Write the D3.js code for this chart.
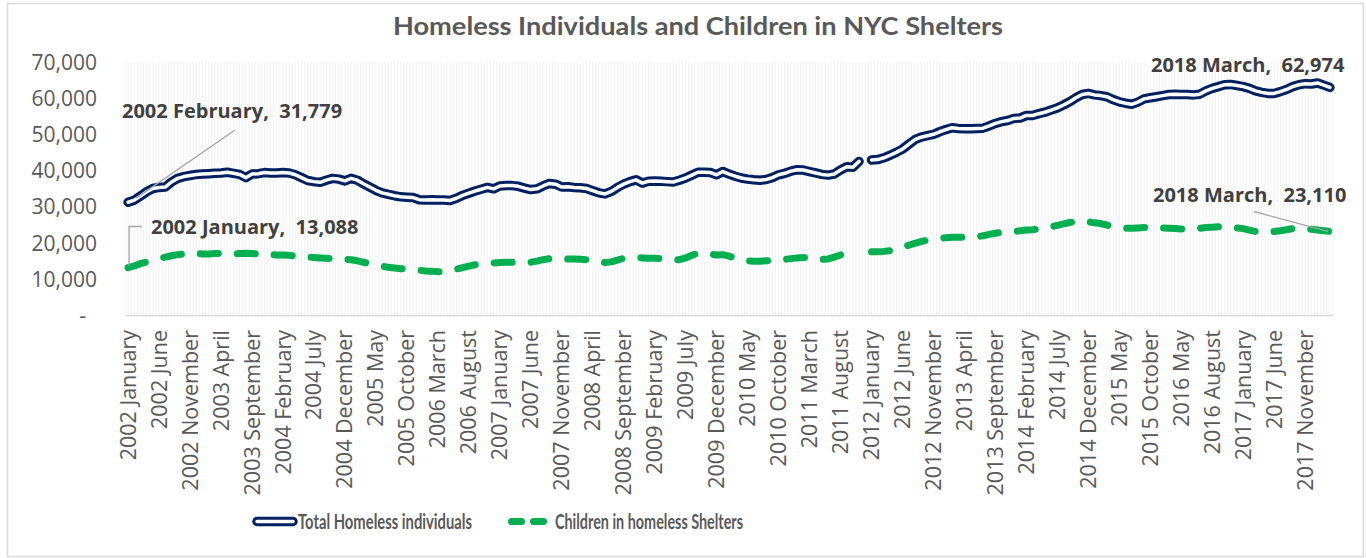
<!DOCTYPE html>
<html>
<head>
<meta charset="utf-8">
<script src="https://cdn.jsdelivr.net/npm/d3@7"></script>
<style>
  html, body { margin: 0; padding: 0; background: #ffffff; }
  svg { display: block; }
</style>
</head>
<body>
<svg id="chart" width="1366" height="558"></svg>
<script>
// ---------------- DATA ----------------
const chartTitle = "Homeless Individuals and Children in NYC Shelters";
const seriesNames = ["Total Homeless individuals", "Children in homeless Shelters"];

// tick labels shown every 5th month on the category axis
const tickLabels = [
  "2002 January","2002 June","2002 November","2003 April","2003 September",
  "2004 February","2004 July","2004 December","2005 May","2005 October",
  "2006 March","2006 August","2007 January","2007 June","2007 November",
  "2008 April","2008 September","2009 February","2009 July","2009 December",
  "2010 May","2010 October","2011 March","2011 August","2012 January",
  "2012 June","2012 November","2013 April","2013 September","2014 February",
  "2014 July","2014 December","2015 May","2015 October","2016 May",
  "2016 August","2017 January","2017 June","2017 November"
];
const tickStep = 5;

// Total homeless individuals, monthly (null = missing month)
const totalHomeless = [
  31200,31779,32900,34100,35000,35300,35400,36800,37800,38300,
  38600,38900,39000,39100,39200,39300,39500,39200,38900,38000,
  39000,39100,39400,39300,39300,39400,39300,38800,38000,37200,
  36900,36700,37300,37800,37600,37100,37800,37300,36300,35400,
  34500,33800,33400,33000,32700,32600,32500,31900,31800,31900,
  31800,31800,31700,32300,33100,33700,34300,34800,35300,34900,
  35700,35800,35800,35600,35100,34700,34900,35700,36400,36200,
  35400,35500,35300,35200,35000,34400,33800,33500,34200,35300,
  36200,36900,37400,36500,37000,37100,37000,36900,36800,37300,
  37900,38700,39500,39500,39400,38800,39700,39000,38400,37900,
  37600,37400,37300,37500,38000,38800,39200,39800,40200,40100,
  39700,39300,38900,38700,39000,40100,41000,40900,42500,null,
  42900,43000,43500,44200,45000,45900,47200,48500,49200,49600,
  50000,50700,51300,51800,51600,51500,51500,51600,51700,52300,
  53000,53500,53800,54400,54500,55200,55200,55700,56100,56700,
  57300,58100,59000,60100,61000,61300,60900,60700,60400,59600,
  59000,58600,58300,58900,59800,60100,60400,60700,61000,61100,
  61000,61000,60900,61100,62000,62700,63200,63700,63800,63500,
  63200,62700,62000,61600,61300,61300,61800,62400,63200,63700,
  64000,63900,64200,63600,62974
];

// Children in homeless shelters, monthly (null = missing month)
const childrenInShelters = [
  13088,13600,14200,14700,15100,15600,16000,16400,16700,16900,
  17000,17000,16900,16900,17000,17000,16900,16900,17000,17100,
  17000,16900,16800,16700,16600,16600,16500,16300,16200,16000,
  15900,15800,15700,15600,15500,15400,15300,15000,14600,14200,
  13800,13500,13200,13000,12800,12700,12500,12400,12200,12100,
  12000,12000,12300,12700,13100,13500,13900,14100,14300,14400,
  14500,14600,14600,14500,14500,14600,14900,15300,15600,15700,
  15600,15500,15500,15400,15300,15000,14700,14500,14700,15200,
  15700,15900,15900,15800,15700,15700,15600,15400,15200,15300,
  15800,16500,17100,17200,16900,16600,16700,16300,15700,15300,
  15000,14900,14900,15000,15100,15300,15400,15600,15800,15900,
  15900,15700,15400,15500,16000,16600,17100,17300,17500,null,
  17500,17500,17600,17800,18100,18700,19300,19800,20300,20700,
  21000,21200,21400,21500,21500,21500,21600,21700,21900,22300,
  22600,22900,23000,23100,23300,23500,23600,23800,24100,24400,
  24800,25200,25600,25900,26000,25800,25500,25300,24900,24400,
  24200,24000,24000,24100,24200,24200,24200,24100,24000,23900,
  23800,23700,23800,24000,24200,24300,24400,24400,24300,24100,
  23900,23500,23100,22900,23000,23100,23300,23600,23900,24000,
  23900,23700,23500,23300,23110
];

const yTicks = [0,10000,20000,30000,40000,50000,60000,70000];

// data labels: [series index, point index, text]
const dataLabels = [
  { series: 0, index: 1,   text: "2002 February,  31,779" },
  { series: 1, index: 0,   text: "2002 January,  13,088" },
  { series: 0, index: 194, text: "2018 March,  62,974" },
  { series: 1, index: 194, text: "2018 March,  23,110" }
];

// ---------------- CHART ----------------
const svg = d3.select("#chart");
const plot = { left: 125, right: 1333, top: 62, bottom: 315 };
const n = totalHomeless.length;
const idx = d3.range(n);

const NAVY = "#002060", GREEN = "#00B050", TXT = "#595959", LBL = "#404040";

// outer chart border
svg.append("rect")
  .attr("x", 7.5).attr("y", 3.5).attr("width", 1356).attr("height", 553)
  .attr("fill", "#ffffff").attr("stroke", "#d9d9d9").attr("stroke-width", 1.5);

const x = d3.scaleBand().domain(idx).range([plot.left, plot.right]).paddingInner(0).paddingOuter(0);
const xc = i => x(i) + x.bandwidth() / 2;
const y = d3.scaleLinear().domain([0, 70000]).range([plot.bottom, plot.top]);

// dense vertical light gridlines
const gridG = svg.append("g");
const sub = 2;
const gridPos = d3.range(n * sub + 1).map(k => plot.left + k * x.bandwidth() / sub);
gridG.selectAll("line").data(gridPos).join("line")
  .attr("x1", d => d).attr("x2", d => d)
  .attr("y1", plot.top).attr("y2", plot.bottom)
  .attr("stroke", "#f2f2f2").attr("stroke-width", 1);

// title
svg.append("text")
  .attr("x", 698).attr("y", 35)
  .attr("text-anchor", "middle")
  .attr("font-family", "Lato, 'Open Sans', sans-serif")
  .attr("font-weight", 700).attr("font-size", 25)
  .attr("fill", TXT)
  .attr("textLength", 610).attr("lengthAdjust", "spacingAndGlyphs")
  .text(chartTitle);

// y axis
const yAxis = d3.axisLeft(y).tickValues(yTicks).tickSize(0).tickPadding(0)
  .tickFormat(d => d === 0 ? "-" : d3.format(",")(d));
const yG = svg.append("g").attr("transform", `translate(97,0)`).call(yAxis);
yG.select(".domain").remove();
yG.selectAll("text")
  .attr("font-family", "'Open Sans', sans-serif").attr("font-size", 21)
  .attr("fill", TXT).attr("dy", "0.35em")
  .attr("dx", d => d === 0 ? -11 : 0);

// x axis
const xAxis = d3.axisBottom(x)
  .tickValues(idx.filter(i => i % tickStep === 0 && i / tickStep < tickLabels.length))
  .tickSize(0).tickPadding(0)
  .tickFormat(i => tickLabels[i / tickStep]);
const xG = svg.append("g").attr("transform", `translate(0,${plot.bottom})`).call(xAxis);
xG.select(".domain").attr("stroke", "#d9d9d9").attr("stroke-width", 1.5);
xG.selectAll("text")
  .attr("font-family", "'Open Sans', sans-serif").attr("font-size", 21.5)
  .attr("fill", TXT)
  .attr("text-anchor", "end")
  .attr("transform", "rotate(-90)")
  .attr("x", -15).attr("y", 0).attr("dy", "0.35em");

// lines
const lineGen = d3.line().defined(d => d.v !== null).x(d => xc(d.i)).y(d => y(d.v));
const totalPts = totalHomeless.map((v, i) => ({ i, v }));
const childPts = childrenInShelters.map((v, i) => ({ i, v }));

const lines = svg.append("g").attr("fill", "none").attr("stroke-linejoin", "round").attr("stroke-linecap", "round");
lines.append("path").datum(totalPts).attr("d", lineGen)
  .attr("stroke", NAVY).attr("stroke-width", 9.5);
lines.append("path").datum(totalPts).attr("d", lineGen)
  .attr("stroke", "#ffffff").attr("stroke-width", 3.5);
lines.append("path").datum(childPts).attr("d", lineGen)
  .attr("stroke", GREEN).attr("stroke-width", 7).attr("stroke-dasharray", "18 19");

// data labels with leader lines
const labelFont = "'Open Sans', sans-serif";
const lblG = svg.append("g");
const seriesArr = [totalHomeless, childrenInShelters];
const labelPlacement = [
  { tx: 122, ty: 118, leader: p => [[p[0] + 2, p[1] - 2], [235, 130]] },
  { tx: 151, ty: 234, leader: p => [[p[0] + 1, p[1] - 2], [p[0] + 1, 226.5], [142, 226.5]] },
  { tx: 1151, ty: 72, leader: null },
  { tx: 1153, ty: 202, leader: p => [[p[0] - 2, p[1]], [1254, 211.5]] }
];
dataLabels.forEach((d, k) => {
  const pl = labelPlacement[k];
  const p = [xc(d.index), y(seriesArr[d.series][d.index])];
  if (pl.leader) {
    lblG.append("path").attr("d", d3.line()(pl.leader(p)))
      .attr("fill", "none").attr("stroke", "#a6a6a6").attr("stroke-width", 1.3);
  }
  lblG.append("text").attr("x", pl.tx).attr("y", pl.ty)
    .attr("font-family", labelFont).attr("font-weight", 700).attr("font-size", 20)
    .attr("fill", LBL).style("white-space", "pre").text(d.text);
});

// legend
const leg = svg.append("g").attr("stroke-linecap", "round");
const ly = 521.5;
const legScale = d3.scaleLinear().domain([0, 1]).range([257, 293]);
leg.append("line").attr("x1", legScale(0)).attr("x2", legScale(1)).attr("y1", ly).attr("y2", ly)
  .attr("stroke", NAVY).attr("stroke-width", 9.5);
leg.append("line").attr("x1", legScale(0)).attr("x2", legScale(1)).attr("y1", ly).attr("y2", ly)
  .attr("stroke", "#ffffff").attr("stroke-width", 3.5);
leg.append("text").attr("x", 298).attr("y", ly).attr("dy", "0.36em")
  .attr("font-family", "Lato, sans-serif").attr("font-weight", 700).attr("font-size", 21)
  .attr("fill", TXT).attr("textLength", 174).attr("lengthAdjust", "spacingAndGlyphs")
  .text(seriesNames[0]);
leg.append("line").attr("x1", 511.5).attr("x2", 543.5).attr("y1", ly).attr("y2", ly)
  .attr("stroke", GREEN).attr("stroke-width", 7).attr("stroke-dasharray", "10 12");
leg.append("text").attr("x", 555).attr("y", ly).attr("dy", "0.36em")
  .attr("font-family", "Lato, sans-serif").attr("font-weight", 700).attr("font-size", 21)
  .attr("fill", TXT).attr("textLength", 188).attr("lengthAdjust", "spacingAndGlyphs")
  .text(seriesNames[1]);
</script>
</body>
</html>
